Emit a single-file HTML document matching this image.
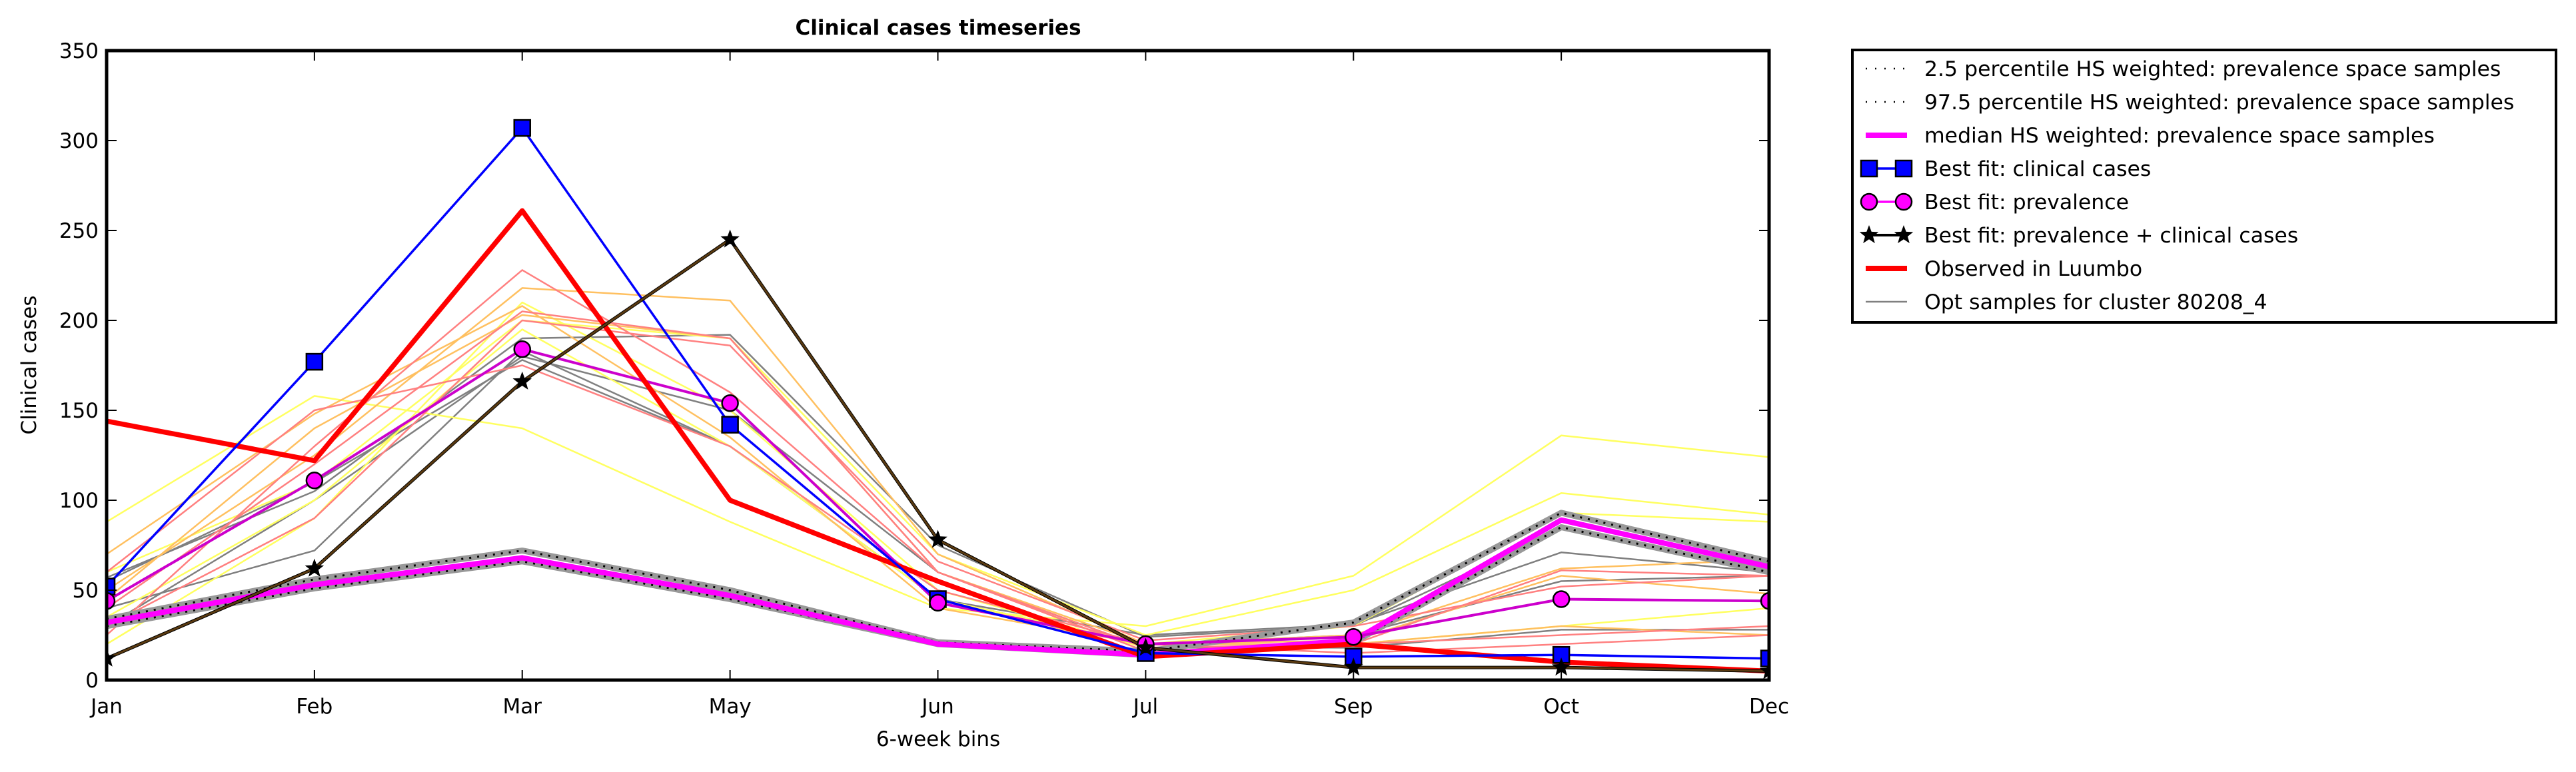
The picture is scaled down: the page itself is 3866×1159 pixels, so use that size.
<!DOCTYPE html>
<html><head><meta charset="utf-8"><style>
html,body{margin:0;padding:0;background:#fff;width:3866px;height:1159px;overflow:hidden;}
svg{display:block;font-family:"DejaVu Sans","Liberation Sans",sans-serif;}
</style></head><body>
<svg id="chart" width="3866" height="1159" viewBox="0 0 3866 1159">
<g id="plot"></g>
<g id="legend"></g>
<text x="1408" y="52" font-size="31" font-weight="bold" text-anchor="middle">Clinical cases timeseries</text>
<text x="1408" y="1120" font-size="31" text-anchor="middle">6-week bins</text>
<text transform="translate(54,548) rotate(-90)" font-size="31" text-anchor="middle">Clinical cases</text>
</svg>
<script>
const categories = ["Jan","Feb","Mar","May","Jun","Jul","Sep","Oct","Dec"];
const yTicks = [0,50,100,150,200,250,300,350];
const bestClinical = [52,177,307,142,45,15,13,14,12];
const observed = [144,122,261,100,55,13,20,10,5];
const bestPrev = [44,111,184,154,43,20,24,45,44];
const bestBoth = [12,62,166,245,78,18,7,7,5];
const median = [32,53,68,47,20,14,22,89,63];
const pct025 = [30,51,66,45,20,14,21,85,60];
const pct975 = [34,56,72,50,21,16,32,93,66];
const optGray1 = [57,105,190,192,75,24,30,84,60];
const optGray2 = [40,72,183,130,45,25,31,71,60];
const optGray3 = [55,110,178,130,45,20,25,55,58];
const optGray4 = [30,100,180,150,60,18,18,28,28];
const optYellow1 = [88,158,140,88,40,30,58,136,124];
const optYellow2 = [60,110,200,190,70,25,50,104,92];
const optYellow3 = [35,100,195,130,45,20,30,93,88];
const optYellow4 = [20,90,210,150,50,18,20,30,40];
const optOrange1 = [50,125,218,211,70,20,25,62,67];
const optOrange2 = [70,148,208,135,40,20,22,58,48];
const optOrange3 = [45,140,203,190,60,20,20,30,25];
const optRed1 = [25,130,228,160,60,18,20,61,58];
const optRed2 = [30,90,200,186,66,22,30,52,58];
const optRed3 = [40,120,205,190,60,16,20,25,30];
const optRed4 = [60,150,175,130,50,20,15,20,25];
const legendLabels=["2.5 percentile HS weighted: prevalence space samples","97.5 percentile HS weighted: prevalence space samples","median HS weighted: prevalence space samples","Best fit: clinical cases","Best fit: prevalence","Best fit: prevalence + clinical cases","Observed in Luumbo","Opt samples for cluster 80208_4"];

const NS="http://www.w3.org/2000/svg";
const L=160,R=2655,T=76,B=1021,YMAX=350;
function xs(i){return L+(R-L)*i/(categories.length-1);}
function ys(v){return B-(B-T)*v/YMAX;}
function mk(tag,attrs,parent){const e=document.createElementNS(NS,tag);for(const k in attrs)e.setAttribute(k,attrs[k]);parent.appendChild(e);return e;}
const plot=document.getElementById('plot');
function pts(arr){return arr.map((v,i)=>xs(i)+","+ys(v)).join(" ");}
function line(arr,stroke,w,name,extra){
  const e=mk('polyline',Object.assign({points:pts(arr),fill:'none',stroke:stroke,'stroke-width':w,'stroke-linejoin':'round'},extra||{}),plot);
  
  
  return e;
}
function star(cx,cy,r){let s="";for(let i=0;i<10;i++){const a=-Math.PI/2+i*Math.PI/5;const rr=i%2?r*0.42:r;s+=(cx+rr*Math.cos(a))+","+(cy+rr*Math.sin(a))+" ";}return s;}
const opts=[[optGray1,'#808080'],[optGray2,'#808080'],[optGray3,'#808080'],[optGray4,'#808080'],
[optYellow1,'#ffff60'],[optYellow2,'#ffff60'],[optYellow3,'#ffff60'],[optYellow4,'#ffff60'],
[optOrange1,'#ffc060'],[optOrange2,'#ffc060'],[optOrange3,'#ffc060'],
[optRed1,'#ff8080'],[optRed2,'#ff8080'],[optRed3,'#ff8080'],[optRed4,'#ff8080']];
opts.forEach(o=>{line(o[0],o[1],2.5,'opt-sample-line');});
[pct025,pct975].forEach((p,k)=>{
  line(p,'#999',9,'percentile-band-'+(k?'97-5':'2-5'));
  line(p,'#000',3,'percentile-line-'+(k?'97-5':'2-5'),{'stroke-dasharray':'3,9'});
});
line(median,'#ff00ff',8,'median-line');
line(bestPrev,'#cc00cc',4,'best-fit-prevalence-line');
line(observed,'#ff0000',7.5,'observed-line');
line(bestClinical,'#0000ff',3.5,'best-fit-clinical-line');
line(bestBoth,'#000',5,'best-fit-both-outline');
line(bestBoth,'#5a3a10',3,'best-fit-both-line');
bestClinical.forEach((v,i)=>{const e=mk('rect',{x:xs(i)-12,y:ys(v)-12,width:24,height:24,fill:'#0000ff',stroke:'#000','stroke-width':2.5},plot);

});
bestPrev.forEach((v,i)=>{const e=mk('circle',{cx:xs(i),cy:ys(v),r:12,fill:'#ff00ff',stroke:'#000','stroke-width':2.5},plot);

});
bestBoth.forEach((v,i)=>{const e=mk('polygon',{points:star(xs(i),ys(v),15),fill:'#000'},plot);

});
mk('rect',{x:0,y:0,width:L,height:1159,fill:'#fff'},plot);
mk('rect',{x:R,y:0,width:3866-R,height:1159,fill:'#fff'},plot);
mk('rect',{x:0,y:B,width:3866,height:1159-B,fill:'#fff'},plot);
categories.forEach((c,i)=>{
  mk('line',{x1:xs(i),x2:xs(i),y1:B,y2:B-15,stroke:'#000','stroke-width':2},plot);
  mk('line',{x1:xs(i),x2:xs(i),y1:T,y2:T+15,stroke:'#000','stroke-width':2},plot);
  const t=mk('text',{x:xs(i),y:B+50,'font-size':31,'text-anchor':'middle'},plot);t.textContent=c;
  
  
});
yTicks.forEach(v=>{
  mk('line',{x1:L,x2:L+15,y1:ys(v),y2:ys(v),stroke:'#000','stroke-width':2},plot);
  mk('line',{x1:R,x2:R-15,y1:ys(v),y2:ys(v),stroke:'#000','stroke-width':2},plot);
  const t=mk('text',{x:L-12,y:ys(v)+11,'font-size':31,'text-anchor':'end'},plot);t.textContent=v;
  
  
});
const fr=mk('rect',{x:L,y:T,width:R-L,height:B-T,fill:'none',stroke:'#000','stroke-width':5},plot);



const lg=document.getElementById('legend');
const box=mk('rect',{x:2780,y:75,width:1056,height:409,fill:'#fff',stroke:'#000','stroke-width':4},lg);


legendLabels.forEach((s,i)=>{
  const cy=103+i*50;const x1=2800,x2=2862;
  if(i<2){mk('line',{x1:x1,x2:x2,y1:cy,y2:cy,stroke:'#000','stroke-width':2.5,'stroke-dasharray':'2,12'},lg);}
  else if(i==2){mk('line',{x1:x1,x2:x2,y1:cy,y2:cy,stroke:'#ff00ff','stroke-width':8},lg);}
  else if(i==3){mk('line',{x1:x1,x2:x2,y1:cy,y2:cy,stroke:'#0000ff','stroke-width':3.5},lg);
    [x1+5,x2-5].forEach(x=>mk('rect',{x:x-12,y:cy-12,width:24,height:24,fill:'#0000ff',stroke:'#000','stroke-width':2.5},lg));}
  else if(i==4){mk('line',{x1:x1,x2:x2,y1:cy,y2:cy,stroke:'#ff00ff','stroke-width':3.5},lg);
    [x1+5,x2-5].forEach(x=>mk('circle',{cx:x,cy:cy,r:12,fill:'#ff00ff',stroke:'#000','stroke-width':2.5},lg));}
  else if(i==5){mk('line',{x1:x1,x2:x2,y1:cy,y2:cy,stroke:'#000','stroke-width':4},lg);
    [x1+5,x2-5].forEach(x=>mk('polygon',{points:star(x,cy,15),fill:'#000'},lg));}
  else if(i==6){mk('line',{x1:x1,x2:x2,y1:cy,y2:cy,stroke:'#ff0000','stroke-width':8},lg);}
  else {mk('line',{x1:x1,x2:x2,y1:cy,y2:cy,stroke:'#808080','stroke-width':2.5},lg);}
  const t=mk('text',{x:2888,y:cy+11,'font-size':31.5},lg);t.textContent=s;
  
  
});
</script>
</body></html>
